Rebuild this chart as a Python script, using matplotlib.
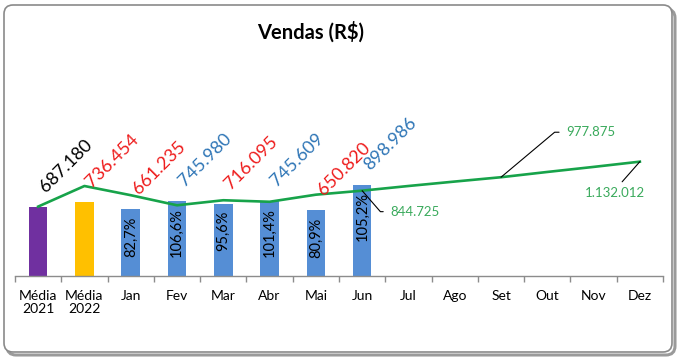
import matplotlib
matplotlib.use("Agg")
import matplotlib.pyplot as plt
from matplotlib.patches import FancyBboxPatch
import numpy as np

# ---- data ----
categories = ["Média\n2021", "Média\n2022", "Jan", "Fev", "Mar", "Abr", "Mai", "Jun",
              "Jul", "Ago", "Set", "Out", "Nov", "Dez"]
bar_values = [687180, 736454, 661235, 745980, 716095, 745609, 650820, 898986]
bar_colors = ["#7030A0", "#FFC000", "#558ED5", "#558ED5", "#558ED5", "#558ED5", "#558ED5", "#558ED5"]
label_colors = ["#000000", "#EE1C1C", "#EE1C1C", "#2E75B6", "#EE1C1C", "#2E75B6", "#EE1C1C", "#2E75B6"]
pct_labels = [None, None, "82,7%", "106,6%", "95,6%", "101,4%", "80,9%", "105,2%"]
line_values = [687180, 891000, 800000, 700000, 750000, 735000, 805000, 844725,
               891000, 935000, 977875, 1030000, 1080000, 1132012]
line_label_idx = [7, 10, 13]

def fmt(v):
    return f"{v:,.0f}".replace(",", ".")

W, H = 679, 358
fig = plt.figure(figsize=(W / 100, H / 100), dpi=100)
plt.rcParams['font.family'] = ['Lato', 'DejaVu Sans']

# frame with shadow
shadow = FancyBboxPatch((7, 3), 668, 346, boxstyle="round,pad=0,rounding_size=9",
                        transform=None, facecolor="none", edgecolor="#9a9a9a", lw=2.2, zorder=-3)
frame = FancyBboxPatch((4, 6), 668, 347, boxstyle="round,pad=0,rounding_size=9",
                       transform=None, facecolor="white", edgecolor="#8a8a8a", lw=1.2, zorder=-2)
fig.patches.extend([shadow, frame])

ax = fig.add_axes([15 / W, (H - 276) / H, 648 / W, 216 / H])
ax.patch.set_alpha(0)
x = np.arange(len(categories))
nb = len(bar_values)
ax.bar(x[:nb], bar_values, width=0.4, color=bar_colors, zorder=2)
ax.plot(x, line_values, color="#17A34A", lw=1.9, zorder=3)

ax.set_xlim(-0.5, len(categories) - 0.5)
ax.set_ylim(0, 216 * 9900)
for s in ["top", "right", "left"]:
    ax.spines[s].set_visible(False)
ax.spines["bottom"].set_color("#8c8c8c")
ax.spines["bottom"].set_linewidth(1)
ax.set_yticks([])
ax.set_xticks(x)
ax.set_xticklabels(categories, fontsize=10, linespacing=1.15)
ax.set_xticks(np.arange(-0.5, len(categories), 1.0), minor=True)
ax.tick_params(axis="x", which="major", length=0, pad=10)
ax.tick_params(axis="x", which="minor", length=4, color="#8c8c8c", width=1)

# bar value labels (rotated)
for i, v in enumerate(bar_values):
    ax.annotate(fmt(v), xy=(i, v), xytext=(28, 41), textcoords="offset pixels",
                rotation=45, rotation_mode="anchor", ha="center", va="center",
                fontsize=13, color=label_colors[i], zorder=5)
    if pct_labels[i]:
        ax.annotate(pct_labels[i], xy=(i, v), xytext=(0, -7), textcoords="offset pixels",
                    rotation=90, ha="center", va="top", fontsize=10.5, color="black", zorder=5)

# line labels with leader lines
green_lbl = "#3AAA5C"
i = line_label_idx[0]
ax.annotate(fmt(line_values[i]), xy=(i, line_values[i]), xytext=(28, -21), textcoords="offset pixels",
            ha="left", va="center", fontsize=9.5, color=green_lbl,
            arrowprops=dict(arrowstyle="-", color="black", lw=0.8, shrinkA=3, shrinkB=0,
                            relpos=(0, 0.5), connectionstyle="angle,angleA=0,angleB=-49"))
i = line_label_idx[1]
ax.annotate(fmt(line_values[i]), xy=(i, line_values[i]), xytext=(65, 45), textcoords="offset pixels",
            ha="left", va="center", fontsize=9.5, color=green_lbl,
            arrowprops=dict(arrowstyle="-", color="black", lw=0.8, shrinkA=3, shrinkB=0,
                            relpos=(0, 0.5), connectionstyle="angle,angleA=0,angleB=40"))
i = line_label_idx[2]
ax.annotate(fmt(line_values[i]), xy=(i, line_values[i]), xytext=(-25, -31), textcoords="offset pixels",
            ha="center", va="center", fontsize=9.5, color=green_lbl,
            arrowprops=dict(arrowstyle="-", color="black", lw=0.8, shrinkA=2, shrinkB=0,
                            relpos=(0.55, 1.0)))

fig.text(311 / W, 1 - 32 / H, "Vendas (R$)", ha="center", va="center",
         fontsize=14.5, fontweight="bold", color="black")

fig.savefig("out.png", dpi=100)
